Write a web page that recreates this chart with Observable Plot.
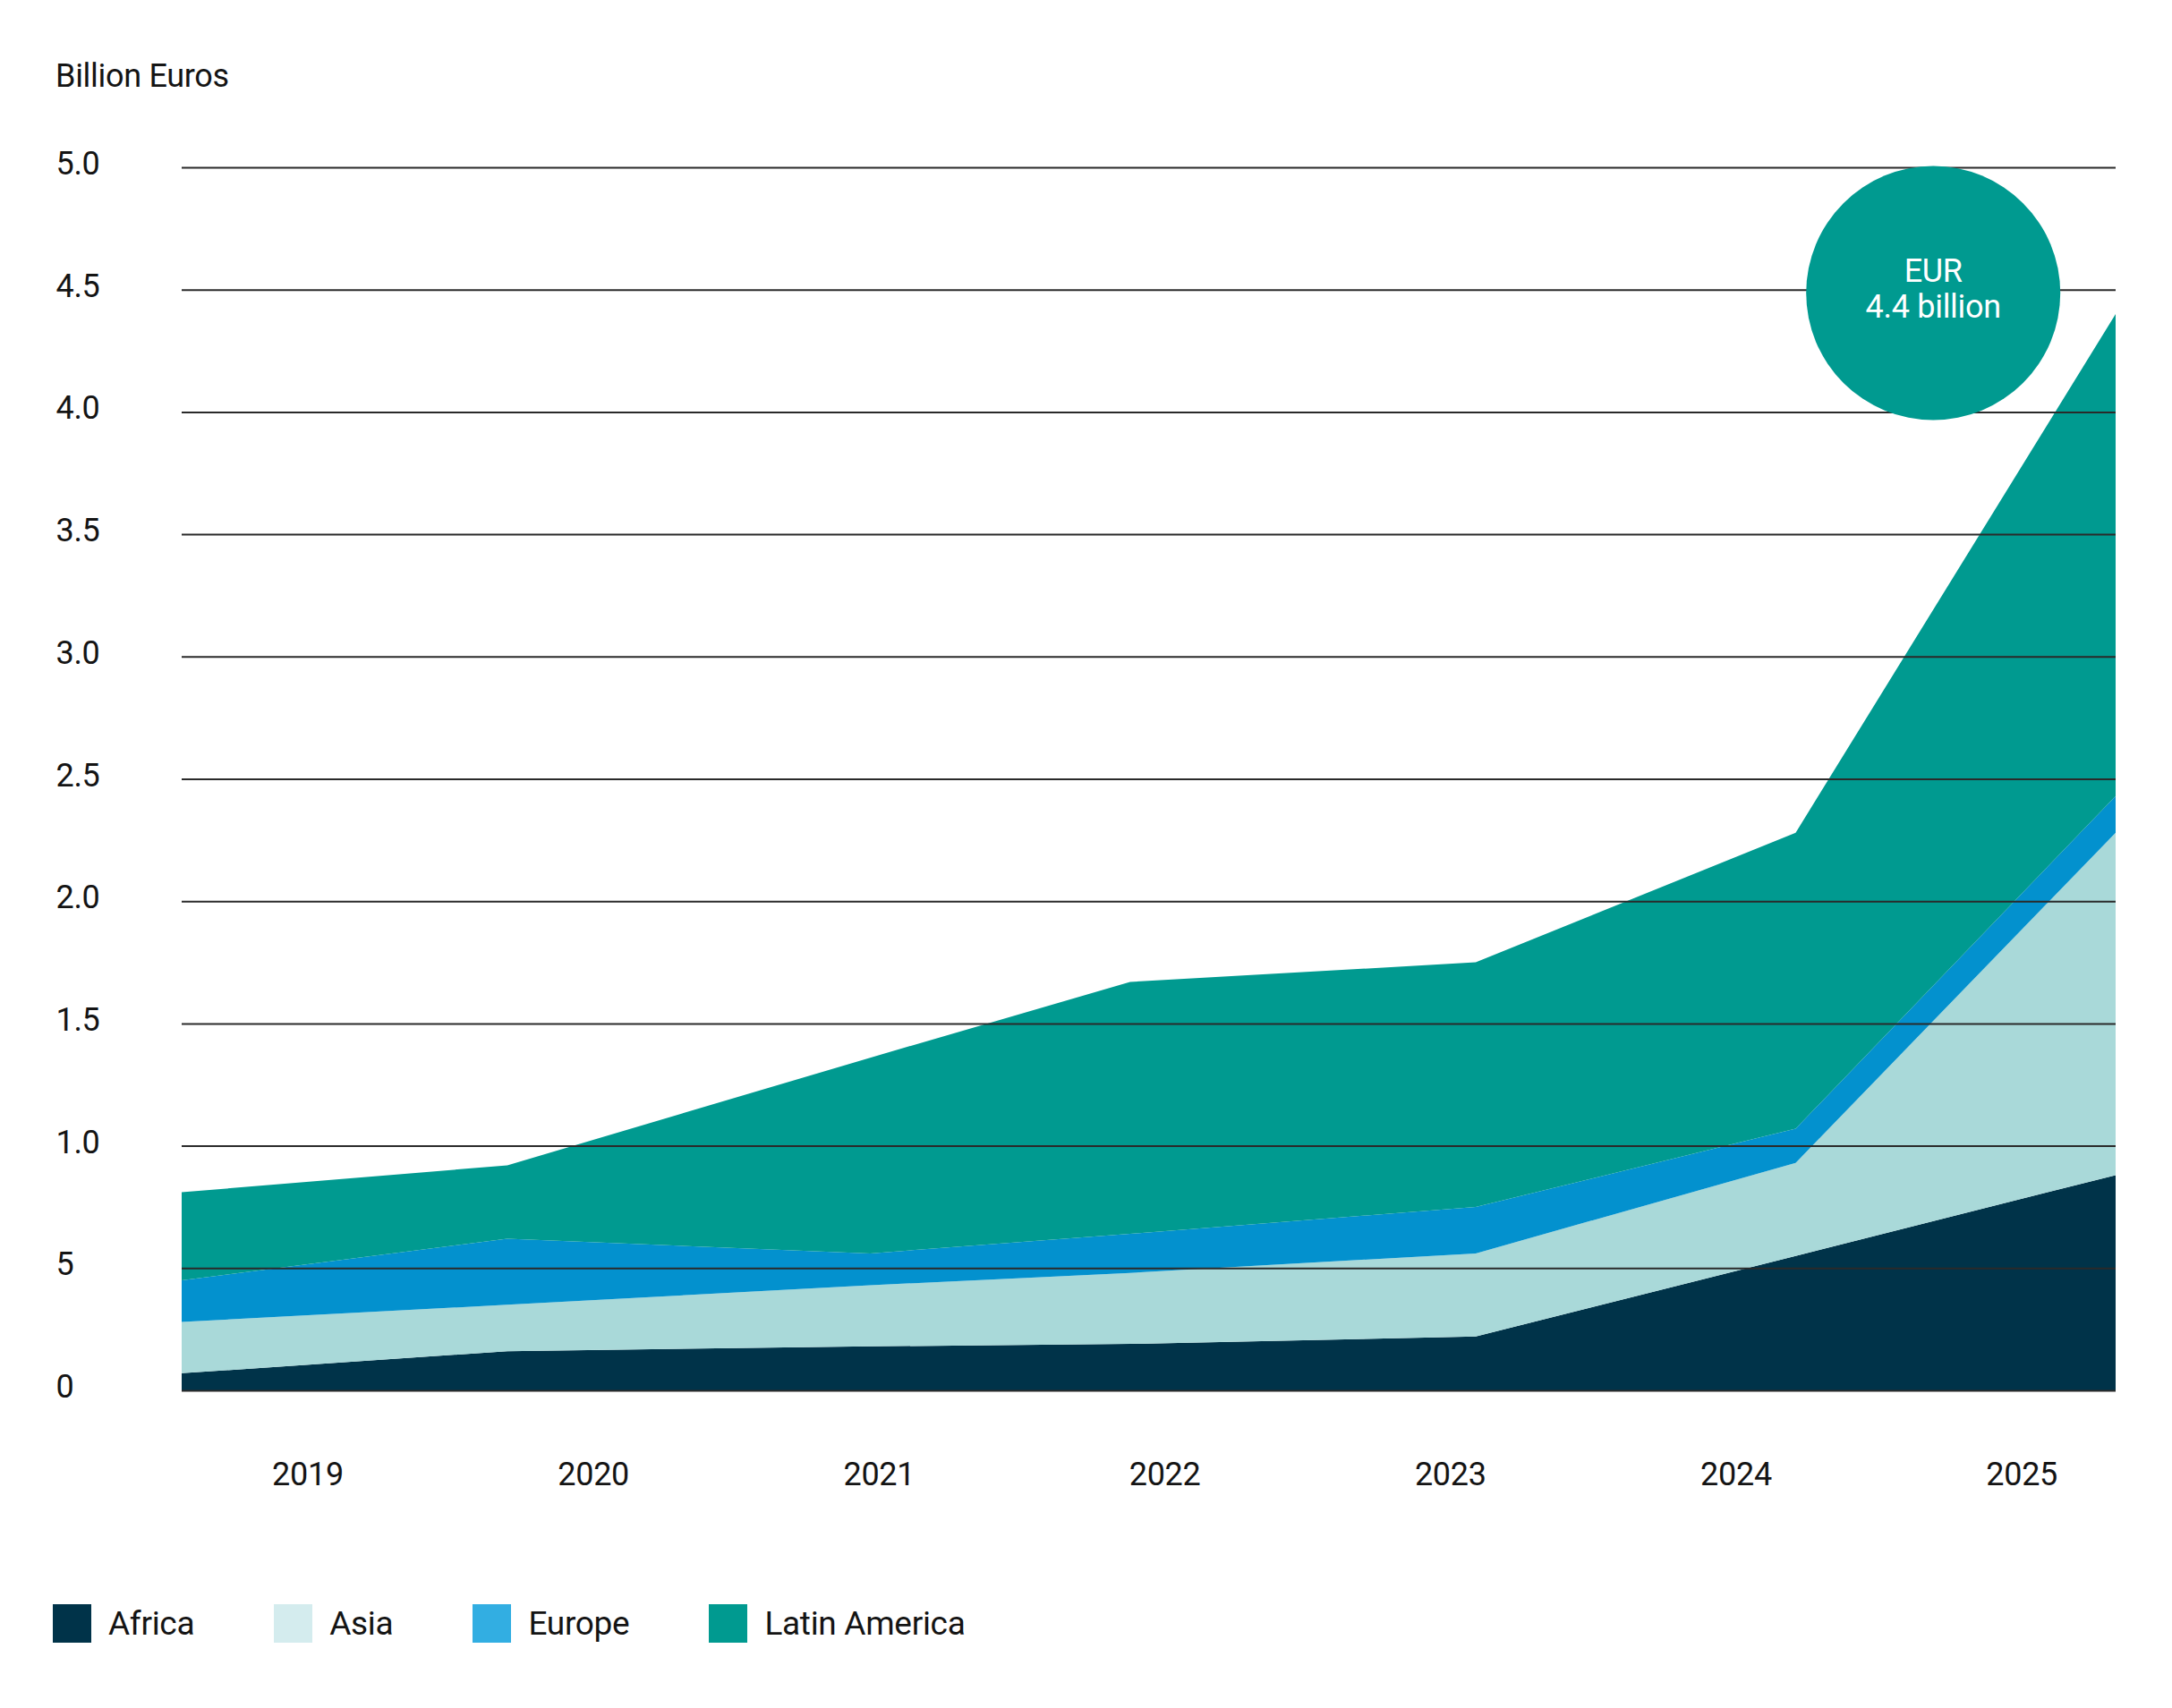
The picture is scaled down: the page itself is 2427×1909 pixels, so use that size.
<!DOCTYPE html>
<html>
<head>
<meta charset="utf-8">
<script src="https://cdn.jsdelivr.net/npm/d3@7"></script>
<script src="https://cdn.jsdelivr.net/npm/@observablehq/plot@0.6"></script>
<style>
  html, body { margin: 0; padding: 0; background: #fff; }
  body { width: 2427px; font-family: Roboto, "Noto Sans", sans-serif; color: #141414; }
  #unit { height: 130px; position: relative; }
  #unit span { position: absolute; left: 62px; top: 62px; font-size: 36px; line-height: 46px; letter-spacing: -0.3px; }
  #legend { display: flex; align-items: center; padding-left: 59px; margin-top: 73px; font-size: 37px; letter-spacing: -0.3px; }
  #legend .item { display: flex; align-items: center; margin-right: 89px; }
  #legend .sw { width: 43px; height: 43px; margin-right: 19px; }
</style>
</head>
<body>
<div id="unit"><span>Billion Euros</span></div>
<div id="chart"></div>
<div id="legend"></div>
<script>
// Reporting points (in fractional years) and the amount per region, billion euros
const timePoints   = [2018.56, 2019.70, 2020.97, 2021.88, 2023.09, 2024.21, 2025.33];
const africa       = [0.07, 0.16, 0.18, 0.19, 0.22, 0.55, 0.88];
const asia         = [0.21, 0.19, 0.25, 0.29, 0.34, 0.38, 1.40];
const europe       = [0.17, 0.27, 0.13, 0.16, 0.19, 0.14, 0.15];
const latinAmerica = [0.36, 0.30, 0.80, 1.03, 1.00, 1.21, 1.97];

const regions      = ["Africa", "Asia", "Europe", "Latin America"];
const areaColors   = ["#003349", "#a9d9d9", "#0391ce", "#009a90"];
const legendColors = ["#003349", "#d4ecee", "#32aee2", "#009a90"];

const yearTicks    = [2019, 2020, 2021, 2022, 2023, 2024, 2025];
const gridValues   = [0, 0.5, 1, 1.5, 2, 2.5, 3, 3.5, 4, 4.5, 5];
const gridLabels   = ["0", "5", "1.0", "1.5", "2.0", "2.5", "3.0", "3.5", "4.0", "4.5", "5.0"];

const series = [africa, asia, europe, latinAmerica];
const rows = regions.flatMap((region, i) =>
  timePoints.map((t, j) => ({region, t, value: series[i][j]}))
);

// Total for the final reporting point, shown in the callout bubble
const lastIndex = timePoints.length - 1;
const finalTotal = d3.sum(series, s => s[lastIndex]);
const callout = [{t: 2024.69, value: finalTotal, text: `EUR\n${finalTotal.toFixed(1)} billion`}];

const chart = Plot.plot({
  width: 2427,
  height: 1590,
  marginTop: 57,
  marginBottom: 166,
  marginLeft: 203,
  marginRight: 63,
  style: {fontFamily: "Roboto, 'Noto Sans', sans-serif", fontSize: "36px", color: "#141414", background: "#fff", letterSpacing: "-0.3px"},
  x: {domain: d3.extent(timePoints)},
  y: {domain: [0, 5]},
  color: {domain: regions, range: areaColors},
  marks: [
    Plot.areaY(rows, {x: "t", y: "value", fill: "region", order: regions, curve: "linear"}),
    Plot.ruleY(gridValues, {stroke: "#2a2a2a", strokeWidth: 2}),
    Plot.dot(callout, {x: "t", y: "value", r: 142, fill: "#009a90", dy: -24}),
    Plot.text(callout, {x: "t", y: "value", text: "text", fill: "#fff", fontSize: 36, lineHeight: 1.1, dy: -29}),
    Plot.axisX(yearTicks, {tickSize: 0, tickPadding: 80, tickFormat: d => String(d), label: null}),
    Plot.axisY(gridValues, {tickSize: 0, tickPadding: 141, textAnchor: "start", dy: -4,
      tickFormat: d => gridLabels[gridValues.indexOf(d)], label: null})
  ]
});
document.getElementById("chart").appendChild(chart);

const legend = document.getElementById("legend");
regions.forEach((r, i) => {
  const item = document.createElement("div");
  item.className = "item";
  item.innerHTML = `<div class="sw" style="background:${legendColors[i]}"></div><span>${r}</span>`;
  legend.appendChild(item);
});
</script>
</body>
</html>
